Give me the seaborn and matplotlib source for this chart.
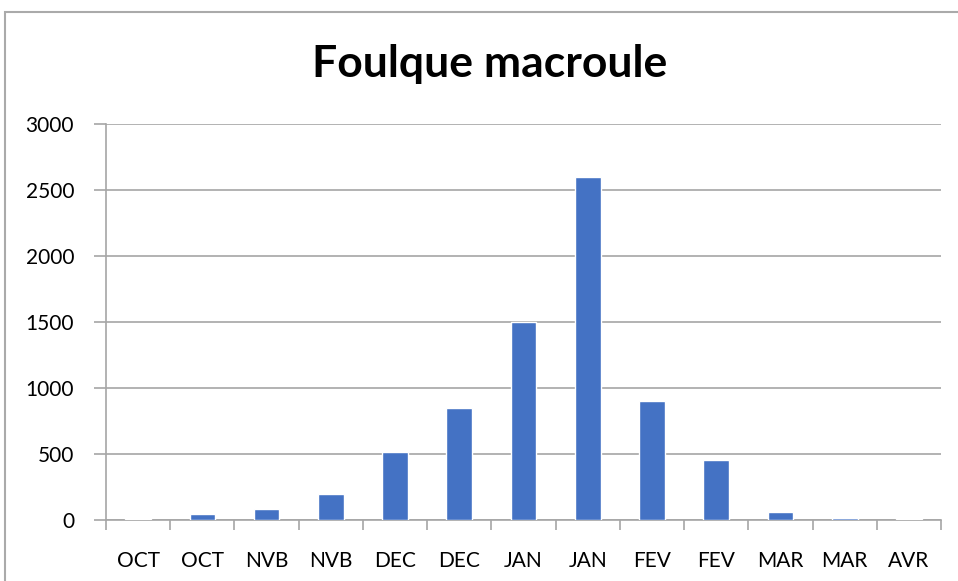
import matplotlib
matplotlib.use("Agg")
import matplotlib.pyplot as plt
import seaborn as sns
import pandas as pd
import numpy as np
from matplotlib.patches import Rectangle

months = ["OCT", "OCT", "NVB", "NVB", "DEC", "DEC", "JAN", "JAN",
          "FEV", "FEV", "MAR", "MAR", "AVR"]
counts = [8, 43, 83, 197, 515, 848, 1500, 2600, 900, 455, 60, 13, 5]
yticks = [0, 500, 1000, 1500, 2000, 2500, 3000]
title = "Foulque macroule"

sns.set_theme(style="white")
plt.rcParams['font.family'] = ['Lato', 'DejaVu Sans']

df = pd.DataFrame({"pos": list(range(len(months))), "count": counts})

fig = plt.figure(figsize=(9.58, 5.81), dpi=100)
ax = fig.add_axes([106/958, 1-520/581, (941-106)/958, (520-124)/581])

sns.barplot(data=df, x="pos", y="count", color="#4472C4", width=0.4,
            saturation=1, ax=ax, zorder=3)

ax.set_xlim(-0.5, len(months) - 0.5)
ax.set_ylim(0, 3000)
ax.set_yticks(yticks)
ax.set_yticklabels([str(v) for v in yticks], fontsize=15)
ax.set_xticks(range(len(months)))
ax.set_xticklabels(months, fontsize=15)
ax.set_xticks(np.arange(-0.5, len(months)), minor=True)
ax.tick_params(axis="x", which="major", length=0, pad=22, colors="black")
ax.tick_params(axis="x", which="minor", length=7, width=1.2, color="#A6A6A6", direction="out", bottom=True)
ax.tick_params(axis="y", length=9, width=1.2, direction="out", left=True, pad=14, labelcolor="black", color="#A6A6A6")
ax.set_xlabel("")
ax.set_ylabel("")
ax.grid(axis="y", color="#A6A6A6", linewidth=1.2, zorder=0)
ax.set_axisbelow(True)
for s in ["top", "right"]:
    ax.spines[s].set_visible(False)
ax.spines["left"].set_color("#A6A6A6")
ax.spines["left"].set_linewidth(1.2)
ax.spines["bottom"].set_color("#A6A6A6")
ax.spines["bottom"].set_linewidth(1.2)

fig.text(490/958, 1-64/581, title, ha="center", va="center",
         fontsize=32, fontweight="bold", color="black")

fig.patches.append(Rectangle((5/958, -0.2), 1.2, 1.2 - 12/581,
                             transform=fig.transFigure, fill=False,
                             edgecolor="#AAAAAA", linewidth=1.5))

fig.savefig("out.png", dpi=100)
